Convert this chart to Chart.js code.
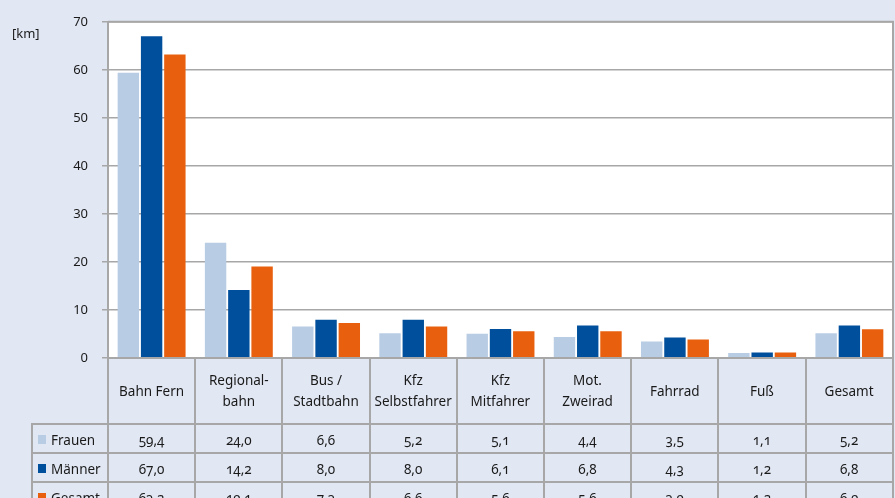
<!DOCTYPE html>
<html>
<head>
<meta charset="utf-8">
<script src="https://cdn.jsdelivr.net/npm/chart.js@4"></script>
<style>
  body { margin: 0; background: #e1e7f3; font-family: "Noto Sans", sans-serif; color: #1a1a1a; }
  #wrap { position: relative; width: 895px; height: 498px; overflow: hidden; }
  #chart { position: absolute; left: 0; top: 0; }
  #unit { position: absolute; left: 12px; top: 24px; font-size: 13px; }
  #tbl { position: absolute; left: 31px; top: 357px; border-collapse: collapse; font-size: 13.5px; }
  #tbl td { border: 2px solid #a7a7a7; text-align: center; padding: 0; font-variant-numeric: oldstyle-nums; }
  #tbl tr.head td { height: 64px; line-height: 21px; }
  #tbl tr.row td { height: 25px; padding-top: 2px; }
  #tbl td.blank { border: none; border-right: 2px solid #a7a7a7; }
  #tbl td.lab { text-align: left; padding-left: 5px; }
  .sw { display: inline-block; width: 8px; height: 9px; margin-right: 5px; vertical-align: 1px; }
</style>
</head>
<body>
<div id="wrap">
  <canvas id="chart" width="895" height="380"></canvas>
  <div id="unit">[km]</div>
  <table id="tbl"></table>
</div>
<script>
const categories = ["Bahn Fern", "Regional-\nbahn", "Bus /\nStadtbahn", "Kfz\nSelbstfahrer", "Kfz\nMitfahrer", "Mot.\nZweirad", "Fahrrad", "Fuß", "Gesamt"];
const frauen = [59.4, 24.0, 6.6, 5.2, 5.1, 4.4, 3.5, 1.1, 5.2];
const maenner = [67.0, 14.2, 8.0, 8.0, 6.1, 6.8, 4.3, 1.2, 6.8];
const gesamt = [63.2, 19.1, 7.3, 6.6, 5.6, 5.6, 3.9, 1.2, 6.0];
const seriesNames = ["Frauen", "Männer", "Gesamt"];
const seriesColors = ["#b8cce4", "#004f9c", "#e8600e"];
const yTicks = [0, 10, 20, 30, 40, 50, 60, 70];

// table under the plot
const tbl = document.getElementById("tbl");
let head = '<tr class="head"><td class="blank" style="width:75px"></td>';
categories.forEach(c => {
  head += `<td style="width:85.2px">${c.replace("\n", "<br>")}</td>`;
});
head += '</tr>';
const fmt = v => v.toFixed(1).replace(".", ",");
[frauen, maenner, gesamt].forEach((arr, i) => {
  head += `<tr class="row"><td class="lab"><span class="sw" style="background:${seriesColors[i]}"></span>${seriesNames[i]}</td>`;
  arr.forEach(v => { head += `<td>${fmt(v)}</td>`; });
  head += '</tr>';
});
tbl.innerHTML = head;

const plotBg = {
  id: 'plotBg',
  beforeDraw(chart) {
    const a = chart.chartArea, c = chart.ctx;
    c.save();
    c.fillStyle = '#ffffff';
    c.fillRect(a.left, a.top, a.right - a.left, a.bottom - a.top);
    c.restore();
  },
  afterDraw(chart) {
    const a = chart.chartArea, c = chart.ctx;
    c.save();
    c.strokeStyle = '#a7a7a7';
    c.lineWidth = 2;
    c.beginPath();
    c.moveTo(a.left, a.top);
    c.lineTo(a.right, a.top);
    c.lineTo(a.right, a.bottom);
    c.stroke();
    c.restore();
  }
};

const ctx = document.getElementById('chart').getContext('2d');
new Chart(ctx, {
  type: 'bar',
  data: {
    labels: categories,
    datasets: [frauen, maenner, gesamt].map((d, i) => ({
      label: seriesNames[i],
      data: d,
      backgroundColor: seriesColors[i],
      borderWidth: 0,
      categoryPercentage: 0.8,
      barPercentage: 0.92
    }))
  },
  plugins: [plotBg],
  options: {
    responsive: false,
    animation: false,
    devicePixelRatio: 1,
    layout: { padding: { top: 19, right: 2, bottom: 9, left: 0 } },
    plugins: { legend: { display: false }, tooltip: { enabled: false } },
    scales: {
      x: { display: false },
      y: {
        min: 0, max: 70,
        afterFit(s) { s.width = 108; },
        afterBuildTicks(s) { s.ticks = yTicks.map(v => ({ value: v })); },
        ticks: { color: '#1a1a1a', padding: 14, font: { family: 'Noto Sans', size: 13 } },
        grid: { color: '#a7a7a7', lineWidth: 1.5, tickLength: 6 },
        border: { color: '#a7a7a7', width: 2 }
      }
    }
  }
});
</script>
</body>
</html>
